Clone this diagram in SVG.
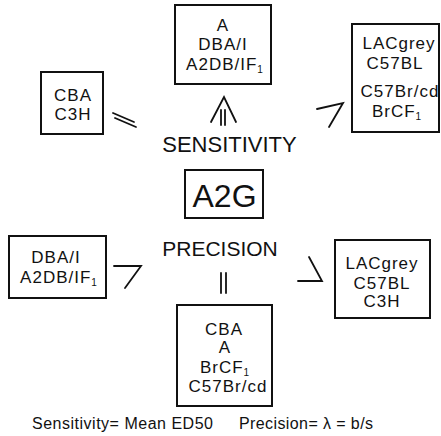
<svg xmlns="http://www.w3.org/2000/svg" width="441" height="436" viewBox="0 0 441 436">
<style>
  .box { fill: #fff; stroke: #111; stroke-width: 2; }
  .t { font-family: "Liberation Sans", Arial, sans-serif; font-size: 17px; fill: #111; text-anchor: middle; letter-spacing: 1px; }
  .big { font-family: "Liberation Sans", Arial, sans-serif; fill: #111; text-anchor: middle; }
  .sub { font-size: 10px; }
  .c { fill: none; stroke: #111; stroke-width: 1.8; stroke-linecap: round; stroke-linejoin: miter; }
</style>
<rect width="441" height="436" fill="#fff"/>

<g id="top">
  <rect class="box" x="175" y="5" width="96" height="79"/>
  <text class="t" x="223" y="31">A</text>
  <text class="t" x="223" y="50">DBA/I</text>
  <text class="t" x="225" y="70">A2DB/IF<tspan class="sub" dy="3">1</tspan></text>
</g>

<g id="left-top">
  <rect class="box" x="41" y="72" width="62" height="62"/>
  <text class="t" x="73" y="101">CBA</text>
  <text class="t" x="73" y="120">C3H</text>
</g>

<g id="right-top">
  <rect class="box" x="352" y="24" width="87" height="108"/>
  <text class="t" x="399" y="49">LACgrey</text>
  <text class="t" x="395" y="69">C57BL</text>
  <text class="t" x="400" y="97">C57Br/cd</text>
  <text class="t" x="397" y="117">BrCF<tspan class="sub" dy="3">1</tspan></text>
</g>

<g id="sensitivity">
  <text class="big" x="229.5" y="152" font-size="22">SENSITIVITY</text>
</g>

<g id="a2g">
  <rect class="box" x="185" y="170" width="78" height="48"/>
  <text class="big" x="224.5" y="207" font-size="32">A2G</text>
</g>

<g id="precision">
  <text class="big" x="220" y="256" font-size="21">PRECISION</text>
</g>

<g id="left-bottom">
  <rect class="box" x="9" y="236" width="97" height="62"/>
  <text class="t" x="56" y="263">DBA/I</text>
  <text class="t" x="59" y="283">A2DB/IF<tspan class="sub" dy="3">1</tspan></text>
</g>

<g id="right-bottom">
  <rect class="box" x="335" y="240" width="95" height="78"/>
  <text class="t" x="382" y="269">LACgrey</text>
  <text class="t" x="382" y="289">C57BL</text>
  <text class="t" x="382" y="307">C3H</text>
</g>

<g id="bottom">
  <rect class="box" x="177" y="305" width="95" height="101"/>
  <text class="t" x="224" y="335">CBA</text>
  <text class="t" x="225" y="353" font-size="16">A</text>
  <text class="t" x="225" y="373">BrCF<tspan class="sub" dy="3">1</tspan></text>
  <text class="t" x="228" y="392">C57Br/cd</text>
</g>

<g id="connectors">
  <line class="c" x1="113" y1="113" x2="134" y2="122"/>
  <line class="c" x1="115" y1="118" x2="136" y2="127"/>
  <polyline class="c" points="211,122 224,97 236,122"/>
  <line class="c" x1="221" y1="110" x2="221" y2="125"/>
  <line class="c" x1="225" y1="110" x2="225" y2="125"/>
  <polyline class="c" points="317,109 343,103 329,127"/>
  <line class="c" x1="221" y1="273" x2="221" y2="293"/>
  <line class="c" x1="226" y1="273" x2="226" y2="293"/>
  <polyline class="c" points="114,266 141,266 125,288"/>
  <polyline class="c" points="309,257 322,281 298,281"/>
</g>

<g id="legend">
  <text class="big" x="32" y="429" font-size="16" style="text-anchor:start" textLength="181" lengthAdjust="spacing">Sensitivity= Mean ED50</text>
  <text class="big" x="239" y="429" font-size="16" style="text-anchor:start" textLength="134" lengthAdjust="spacing">Precision= λ = b/s</text>
</g>
</svg>
